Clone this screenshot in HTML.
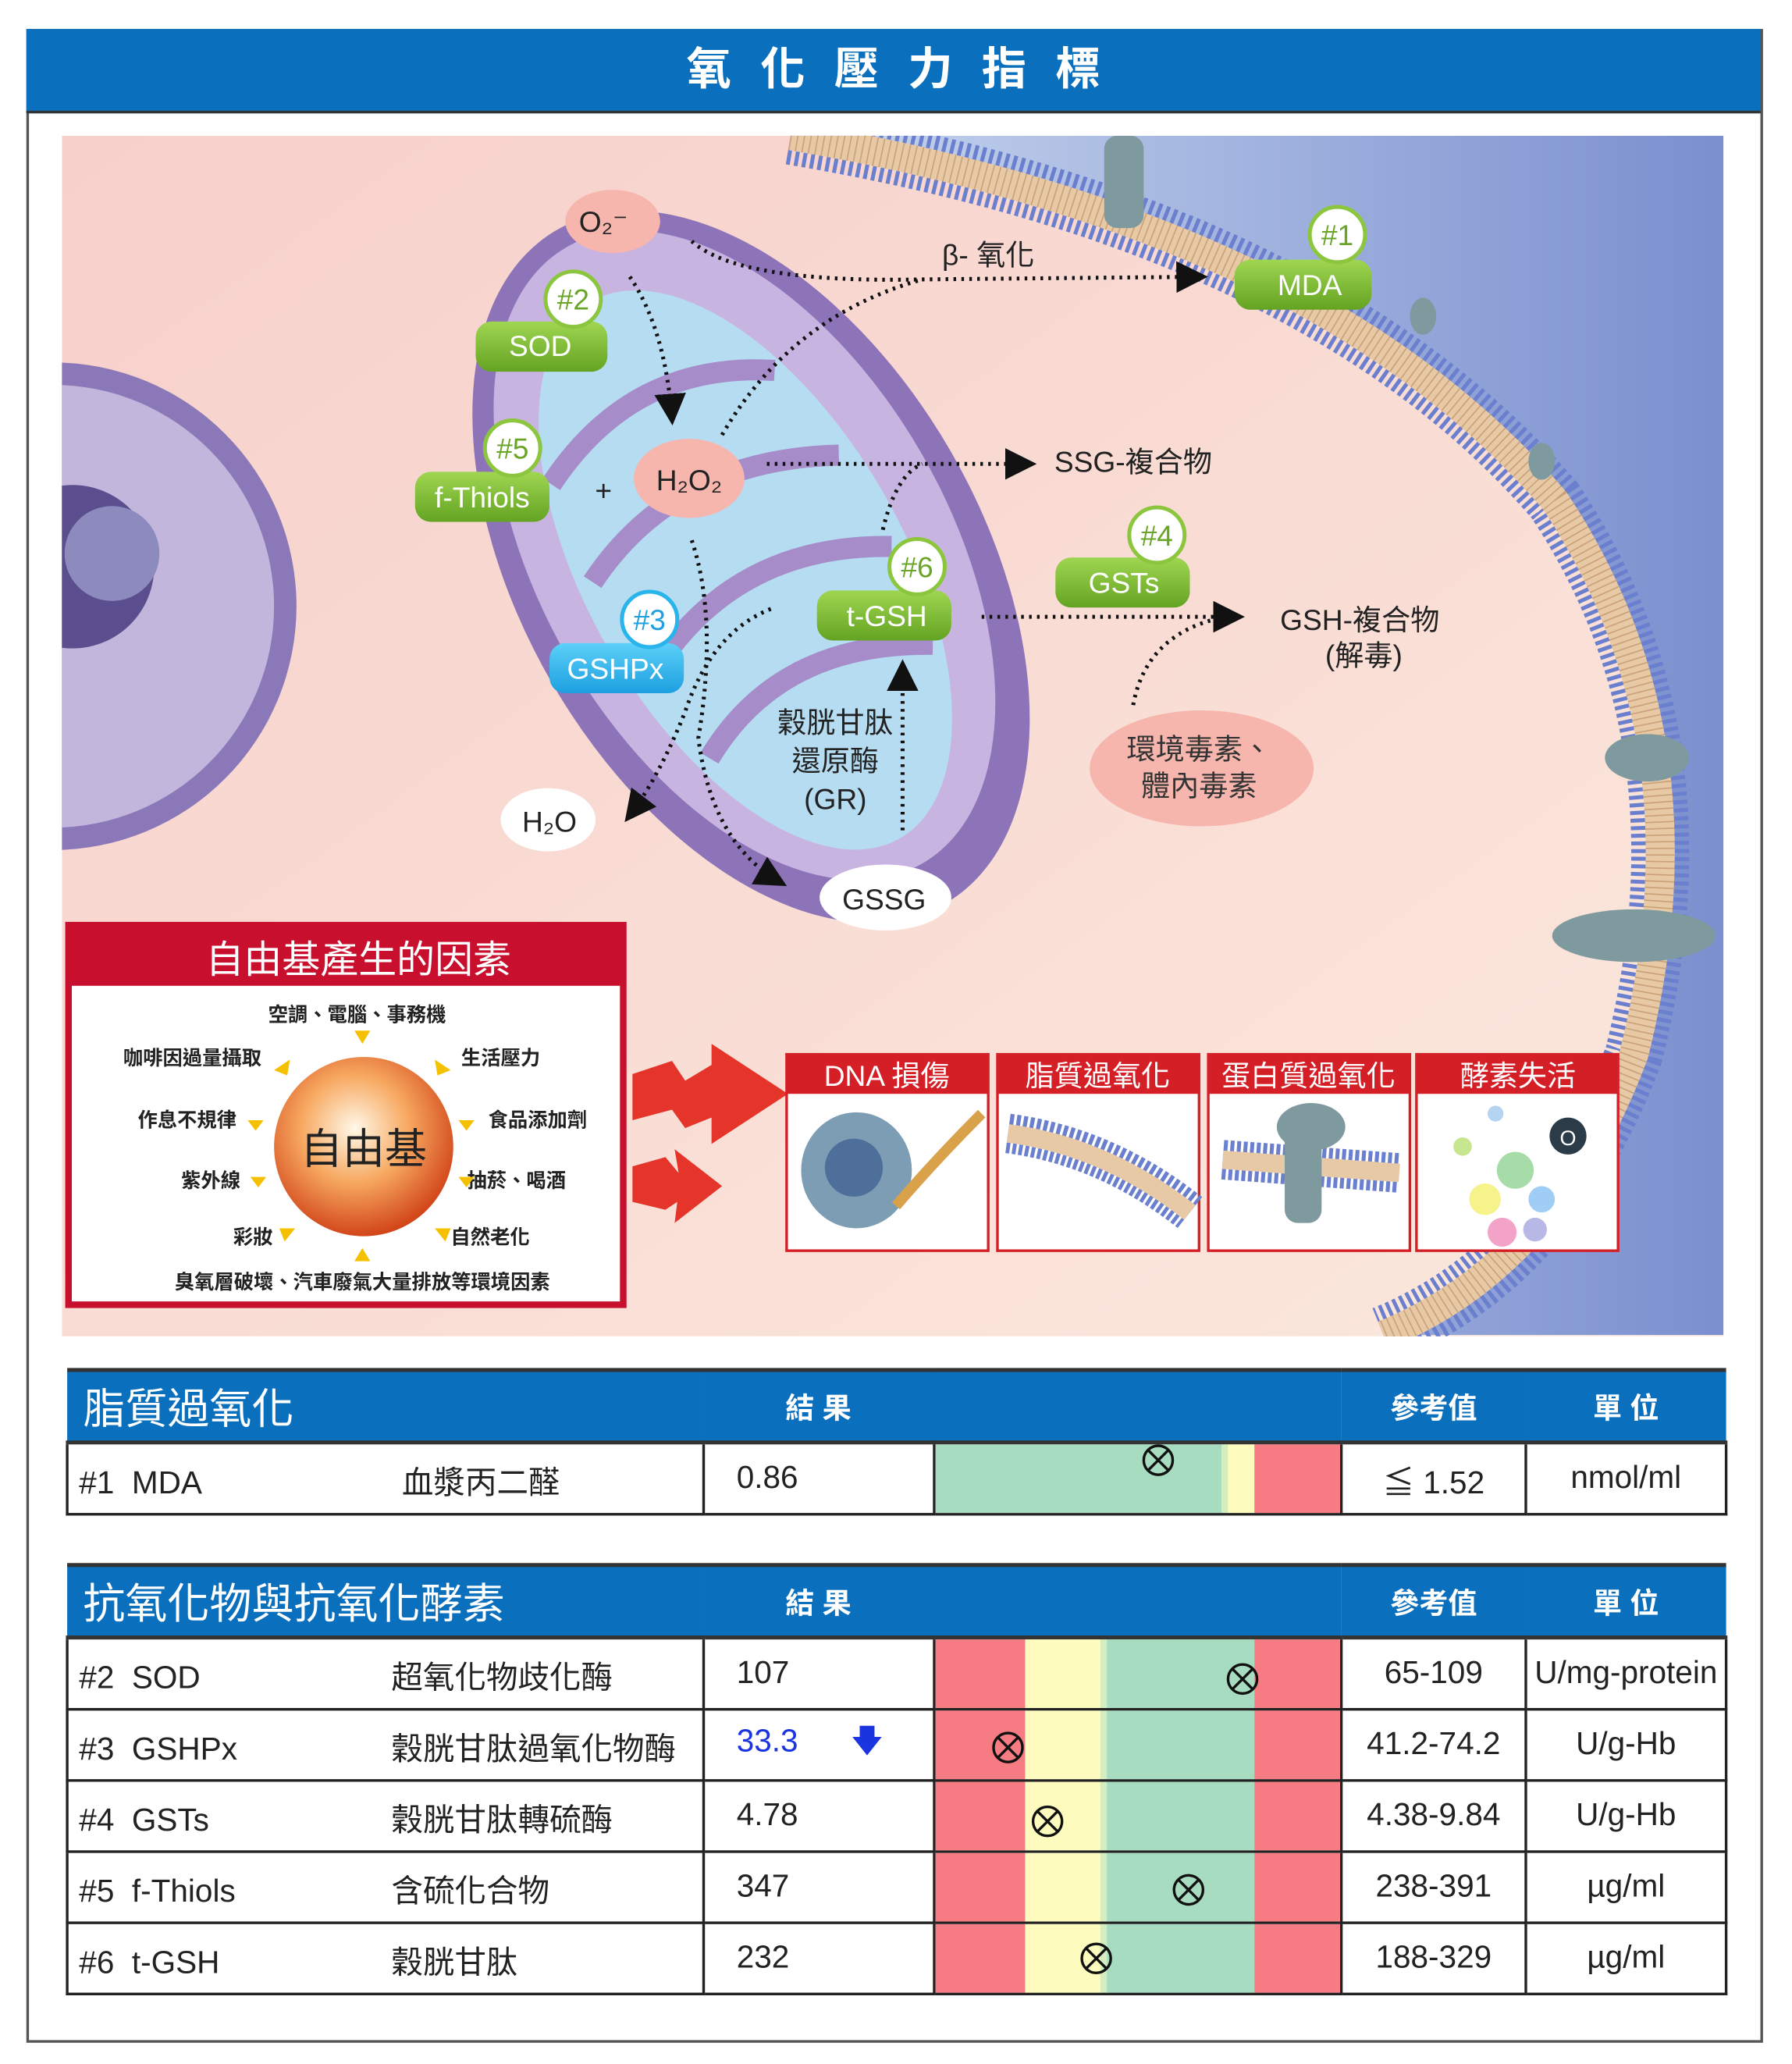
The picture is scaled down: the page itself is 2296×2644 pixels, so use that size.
<!DOCTYPE html>
<html><head><meta charset="utf-8">
<style>
html,body{margin:0;padding:0;background:#fff;}
body{width:2296px;height:2643px;overflow:hidden;position:relative;font-family:"Liberation Sans","Noto Sans CJK TC",sans-serif;}
#w{position:absolute;left:0;top:0;width:1360px;height:1566px;transform:scale(1.68824);transform-origin:0 0;}
.a{position:absolute;}
.t{position:absolute;border-collapse:collapse;left:50px;width:1259px;table-layout:fixed;}
.t td{border:2px solid #222;height:52px;font-size:24px;color:#222;padding:0;white-space:nowrap;}
.hd td{background:#0a6fbd;color:#fff;border:none;border-top:3px solid #333;border-bottom:3px solid #333;}
.bar{position:relative;padding:0!important;}
.bar div{position:absolute;top:0;bottom:0;}
.x{position:absolute;width:24px;height:24px;border:2px solid #111;border-radius:50%;box-sizing:border-box;top:13px;}
.x:before,.x:after{content:"";position:absolute;left:50%;top:-1px;width:2px;height:22px;background:#111;margin-left:-1px;transform:rotate(45deg);}
.x:after{transform:rotate(-45deg);}
</style></head><body><div id="w">
<div class="a" style="left:20px;top:22px;width:1314px;height:1524px;border:2px solid #555;"></div>
<div class="a" style="left:20px;top:22px;width:1316px;height:62px;background:#0a6fbd;border-bottom:2px solid #333;color:#fff;font-size:34px;text-align:center;line-height:62px;letter-spacing:22px;text-indent:22px;font-weight:bold;">氧化壓力指標</div>

<svg class="a" style="left:47px;top:103px" width="1261" height="911" viewBox="47 103 1261 911">
<defs>
<linearGradient id="bg" x1="0" y1="0" x2="1" y2="1"><stop offset="0" stop-color="#f7d0cb"/><stop offset="1" stop-color="#fbe8dd"/></linearGradient>
<linearGradient id="bl" x1="0" y1="0" x2="1" y2="0"><stop offset="0" stop-color="#c7d6ee"/><stop offset="1" stop-color="#7b8fcf"/></linearGradient>
<radialGradient id="org" cx=".45" cy=".4" r=".6"><stop offset="0" stop-color="#fff8e8"/><stop offset=".5" stop-color="#f7a860"/><stop offset="1" stop-color="#d2461a"/></radialGradient>
<linearGradient id="gr" x1="0" y1="0" x2="0" y2="1"><stop offset="0" stop-color="#9fd651"/><stop offset="1" stop-color="#64a322"/></linearGradient>
<linearGradient id="bu" x1="0" y1="0" x2="0" y2="1"><stop offset="0" stop-color="#5cd0f8"/><stop offset="1" stop-color="#1d9fe0"/></linearGradient>
<marker id="ar" viewBox="0 0 10 10" refX="8" refY="5" markerWidth="8" markerHeight="8" orient="auto"><path d="M0 0L10 5L0 10z" fill="#111"/></marker>
</defs>
<rect x="47" y="103" width="1261" height="911" fill="url(#bg)"/>
<path d="M600 103 Q1000 170 1180 380 Q1300 560 1240 800 Q1180 960 1050 1013 L1308 1013 L1308 103 Z" fill="url(#bl)"/>
<path d="M600 103 Q1000 170 1180 380 Q1300 560 1240 800 Q1180 960 1050 1013" fill="none" stroke="#6b7fcf" stroke-width="44" stroke-dasharray="3 3"/>
<path d="M600 103 Q1000 170 1180 380 Q1300 560 1240 800 Q1180 960 1050 1013" fill="none" stroke="#e8c9a6" stroke-width="22"/>
<path d="M600 103 Q1000 170 1180 380 Q1300 560 1240 800 Q1180 960 1050 1013" fill="none" stroke="#c9a27a" stroke-width="22" stroke-dasharray="1 4"/>
<g fill="#7f9a9e"><rect x="838" y="103" width="30" height="70" rx="10"/><ellipse cx="1250" cy="575" rx="32" ry="18"/><ellipse cx="1240" cy="710" rx="62" ry="20"/><ellipse cx="1080" cy="240" rx="10" ry="14"/><ellipse cx="1170" cy="350" rx="10" ry="14"/></g>
<circle cx="40" cy="460" r="185" fill="#8b78b8"/>
<circle cx="40" cy="460" r="168" fill="#c2b6dc"/>
<ellipse cx="55" cy="430" rx="62" ry="62" fill="#5a4e8e"/>
<ellipse cx="85" cy="420" rx="36" ry="36" fill="#8d8abe"/>
<g transform="rotate(-30 570 430)">
<ellipse cx="570" cy="430" rx="175" ry="295" fill="#8d74b8"/>
<ellipse cx="570" cy="420" rx="155" ry="270" fill="#c8b4e0"/>
<ellipse cx="565" cy="430" rx="120" ry="235" fill="#b6dcf2"/>
<g fill="none" stroke="#a68cc8" stroke-width="16"><path d="M470 300 Q570 250 660 310"/><path d="M460 380 Q560 330 670 390"/><path d="M470 460 Q570 410 670 470"/><path d="M470 540 Q560 490 660 550"/></g>
</g>
<g fill="none" stroke="#111" stroke-width="3" stroke-dasharray="2 4">
<path d="M525 183 Q560 215 700 212 L912 210" marker-end="url(#ar)"/>
<path d="M548 330 Q600 240 700 212"/>
<path d="M478 210 Q505 250 510 318" marker-end="url(#ar)"/>
<path d="M582 352 L782 352" marker-end="url(#ar)"/>
<path d="M670 402 Q680 360 700 352"/>
<path d="M745 468 L940 468" marker-end="url(#ar)"/>
<path d="M860 535 Q870 480 930 468"/>
<path d="M525 410 Q545 470 530 560 Q540 640 593 670" marker-end="url(#ar)"/>
<path d="M585 462 Q540 480 520 540 Q500 590 477 620" marker-end="url(#ar)"/>
<path d="M685 630 L685 505" marker-end="url(#ar)"/>
</g>
<g font-family="Liberation Sans,Noto Sans CJK TC,sans-serif" font-size="22" text-anchor="middle">
<ellipse cx="465" cy="168" rx="36" ry="24" fill="#f6b6ae"/><text x="458" y="176" fill="#222">O₂⁻</text>
<ellipse cx="523" cy="363" rx="42" ry="30" fill="#f6b6ae"/><text x="523" y="372" fill="#222">H₂O₂</text>
<ellipse cx="416" cy="622" rx="36" ry="24" fill="#fff"/><text x="417" y="631" fill="#222">H₂O</text>
<ellipse cx="672" cy="681" rx="50" ry="25" fill="#fff"/><text x="671" y="690" fill="#222">GSSG</text>
<ellipse cx="912" cy="583" rx="85" ry="44" fill="#f6b6ae"/><text x="910" y="576" fill="#333">環境毒素、</text><text x="910" y="604" fill="#333">體內毒素</text>
<text x="458" y="380" fill="#222">+</text>
<text x="750" y="201" fill="#222">β- 氧化</text>
<text x="860" y="358" fill="#222">SSG-複合物</text>
<text x="1032" y="478" fill="#222">GSH-複合物</text><text x="1035" y="505" fill="#222">(解毒)</text>
<text x="634" y="556" fill="#222">穀胱甘肽</text><text x="634" y="585" fill="#222">還原酶</text><text x="634" y="614" fill="#222">(GR)</text>
<g fill="#fff">
<rect x="361" y="244" width="100" height="38" rx="12" fill="url(#gr)"/><text x="410" y="270">SOD</text>
<rect x="315" y="358" width="102" height="38" rx="12" fill="url(#gr)"/><text x="366" y="385">f-Thiols</text>
<rect x="620" y="448" width="102" height="38" rx="12" fill="url(#gr)"/><text x="673" y="475">t-GSH</text>
<rect x="801" y="423" width="102" height="38" rx="12" fill="url(#gr)"/><text x="853" y="450">GSTs</text>
<rect x="937" y="197" width="104" height="38" rx="12" fill="url(#gr)"/><text x="994" y="224">MDA</text>
<rect x="417" y="488" width="102" height="38" rx="12" fill="url(#bu)"/><text x="467" y="515">GSHPx</text>
</g>
<g stroke-width="3" fill="#fff">
<circle cx="435" cy="227" r="21" stroke="#8cc63f"/><circle cx="389" cy="340" r="21" stroke="#8cc63f"/><circle cx="696" cy="430" r="21" stroke="#8cc63f"/><circle cx="878" cy="406" r="21" stroke="#8cc63f"/><circle cx="1015" cy="178" r="21" stroke="#8cc63f"/><circle cx="493" cy="470" r="21" stroke="#29b5ec"/>
</g>
<g fill="#6aa528"><text x="435" y="235">#2</text><text x="389" y="348">#5</text><text x="696" y="438">#6</text><text x="878" y="414">#4</text><text x="1015" y="186">#1</text></g>
<text x="493" y="478" fill="#1d9fe0">#3</text>
</g>
<g fill="#e5352b"><path d="M480 815 L510 805 L520 820 L540 808 L540 792 L598 830 L540 868 L540 848 L520 856 L510 842 L480 850 Z"/><path d="M480 885 L505 878 L515 890 L512 872 L548 900 L512 928 L514 912 L505 918 L480 912 Z"/></g>
<rect x="52" y="702" width="421" height="288" fill="#fff" stroke="#c8102e" stroke-width="5"/>
<rect x="52" y="702" width="421" height="46" fill="#c8102e"/>
<text x="272" y="738" font-size="29" fill="#fff" text-anchor="middle" font-family="Liberation Sans,Noto Sans CJK TC,sans-serif">自由基產生的因素</text>
<circle cx="276" cy="870" r="68" fill="url(#org)"/>
<g font-family="Liberation Sans,Noto Sans CJK TC,sans-serif" font-size="15" font-weight="bold" fill="#222" text-anchor="middle">
<text x="276" y="883" font-size="32" font-weight="normal">自由基</text>
<text x="271" y="775">空調、電腦、事務機</text><text x="146" y="808">咖啡因過量攝取</text><text x="380" y="808">生活壓力</text>
<text x="142" y="855">作息不規律</text><text x="408" y="855">食品添加劑</text><text x="160" y="901">紫外線</text><text x="392" y="901">抽菸、喝酒</text>
<text x="192" y="944">彩妝</text><text x="372" y="944">自然老化</text><text x="275" y="978">臭氧層破壞、汽車廢氣大量排放等環境因素</text>
</g>
<g fill="#f5c000"><path d="M269 782h12l-6 10z"/><path d="M269 957h12l-6-10z"/><path d="M208 812l12 -8l-2 12z"/><path d="M342 812l-12-8l2 12z"/><path d="M188 850l12 0l-6 8z"/><path d="M360 850l-12 0l6 8z"/><path d="M190 893l12 0l-6 8z"/><path d="M360 893l-12 0l6 8z"/><path d="M212 932l12 0l-8 10z"/><path d="M330 932l12 0l-4 10z"/></g>
<g font-family="Liberation Sans,Noto Sans CJK TC,sans-serif" font-size="22" fill="#fff" text-anchor="middle">
<rect x="597" y="800" width="153" height="149" fill="#fff" stroke="#d51f26" stroke-width="2"/><rect x="597" y="800" width="153" height="30" fill="#d51f26"/><text x="673" y="824">DNA 損傷</text>
<rect x="757" y="800" width="153" height="149" fill="#fff" stroke="#d51f26" stroke-width="2"/><rect x="757" y="800" width="153" height="30" fill="#d51f26"/><text x="833" y="824">脂質過氧化</text>
<rect x="917" y="800" width="153" height="149" fill="#fff" stroke="#d51f26" stroke-width="2"/><rect x="917" y="800" width="153" height="30" fill="#d51f26"/><text x="993" y="824">蛋白質過氧化</text>
<rect x="1075" y="800" width="153" height="149" fill="#fff" stroke="#d51f26" stroke-width="2"/><rect x="1075" y="800" width="153" height="30" fill="#d51f26"/><text x="1152" y="824">酵素失活</text>
</g>
<ellipse cx="650" cy="888" rx="42" ry="44" fill="#7d9db5"/><ellipse cx="648" cy="886" rx="22" ry="22" fill="#4e6f99"/>
<path d="M680 915 Q710 880 745 845" stroke="#d9a24a" stroke-width="8" fill="none"/>
<path d="M765 860 Q840 870 903 920" stroke="#6b7fcf" stroke-width="30" stroke-dasharray="3 2" fill="none"/><path d="M765 860 Q840 870 903 920" stroke="#e8c9a6" stroke-width="14" fill="none"/>
<path d="M928 880 L1062 890" stroke="#6b7fcf" stroke-width="30" stroke-dasharray="3 2" fill="none"/><path d="M928 880 L1062 890" stroke="#e8c9a6" stroke-width="14" fill="none"/>
<rect x="975" y="840" width="28" height="88" rx="10" fill="#7f9a9e"/><ellipse cx="995" cy="855" rx="26" ry="18" fill="#7f9a9e"/>
<g><circle cx="1150" cy="888" r="14" fill="#a6dca8"/><circle cx="1127" cy="910" r="12" fill="#f6f38a"/><circle cx="1170" cy="910" r="10" fill="#9fcdf5"/><circle cx="1140" cy="935" r="11" fill="#f3a2c8"/><circle cx="1165" cy="933" r="9" fill="#b8b8e6"/><circle cx="1110" cy="870" r="7" fill="#c6e690"/><circle cx="1135" cy="845" r="6" fill="#b5d4f2"/><circle cx="1190" cy="862" r="14" fill="#2b3b48"/><text x="1190" y="869" font-size="16" fill="#fff" text-anchor="middle">O</text></g>
</svg>

<table class="t" style="top:1038px">
<colgroup><col style="width:483px"><col style="width:175px"><col style="width:309px"><col style="width:140px"><col style="width:152px"></colgroup>
<tr class="hd"><td style="height:52px;font-size:32px;padding-left:12px;">脂質過氧化</td><td colspan="2" style="font-size:22px;padding-left:62px;font-weight:bold;">結 果</td><td style="font-size:22px;text-align:center;font-weight:bold;">參考值</td><td style="font-size:22px;text-align:center;font-weight:bold;">單 位</td></tr>
<tr><td style="padding-left:8px"><span style="display:inline-block;width:245px">#1&nbsp; MDA</span>血漿丙二醛</td><td style="padding-left:24px">0.86</td>
<td class="bar"><div style="left:0;width:217px;background:#a8dcc0"></div><div style="left:217px;width:5px;background:#d6eebf"></div><div style="left:222px;width:20px;background:#fdfcbe"></div><div style="left:242px;right:0;background:#f77b83"></div><div class="x" style="left:157px"></div></td>
<td style="text-align:center">≦ 1.52</td><td style="text-align:center">nmol/ml</td></tr>
</table>

<table class="t" style="top:1186px">
<colgroup><col style="width:483px"><col style="width:175px"><col style="width:309px"><col style="width:140px"><col style="width:152px"></colgroup>
<tr class="hd"><td style="height:52px;font-size:32px;padding-left:12px;">抗氧化物與抗氧化酵素</td><td colspan="2" style="font-size:22px;padding-left:62px;font-weight:bold;">結 果</td><td style="font-size:22px;text-align:center;font-weight:bold;">參考值</td><td style="font-size:22px;text-align:center;font-weight:bold;">單 位</td></tr>
<tr><td style="padding-left:8px"><span style="display:inline-block;width:237px">#2&nbsp; SOD</span>超氧化物歧化酶</td><td style="padding-left:24px">107</td>
<td class="bar"><div style="left:0;width:68px;background:#f77b83"></div><div style="left:68px;width:57px;background:#fdfcbe"></div><div style="left:125px;width:5px;background:#d6eebf"></div><div style="left:130px;width:112px;background:#a8dcc0"></div><div style="left:242px;right:0;background:#f77b83"></div><div class="x" style="left:221px;top:18px"></div></td>
<td style="text-align:center">65-109</td><td style="text-align:center">U/mg-protein</td></tr>
<tr><td style="padding-left:8px"><span style="display:inline-block;width:237px">#3&nbsp; GSHPx</span>穀胱甘肽過氧化物酶</td><td style="padding-left:24px;color:#1a35e0">33.3<span style="margin-left:40px">🡇</span></td>
<td class="bar"><div style="left:0;width:68px;background:#f77b83"></div><div style="left:68px;width:57px;background:#fdfcbe"></div><div style="left:125px;width:5px;background:#d6eebf"></div><div style="left:130px;width:112px;background:#a8dcc0"></div><div style="left:242px;right:0;background:#f77b83"></div><div class="x" style="left:43px;top:16px"></div></td>
<td style="text-align:center">41.2-74.2</td><td style="text-align:center">U/g-Hb</td></tr>
<tr><td style="padding-left:8px"><span style="display:inline-block;width:237px">#4&nbsp; GSTs</span>穀胱甘肽轉硫酶</td><td style="padding-left:24px">4.78</td>
<td class="bar"><div style="left:0;width:68px;background:#f77b83"></div><div style="left:68px;width:57px;background:#fdfcbe"></div><div style="left:125px;width:5px;background:#d6eebf"></div><div style="left:130px;width:112px;background:#a8dcc0"></div><div style="left:242px;right:0;background:#f77b83"></div><div class="x" style="left:73px;top:18px"></div></td>
<td style="text-align:center">4.38-9.84</td><td style="text-align:center">U/g-Hb</td></tr>
<tr><td style="padding-left:8px"><span style="display:inline-block;width:237px">#5&nbsp; f-Thiols</span>含硫化合物</td><td style="padding-left:24px">347</td>
<td class="bar"><div style="left:0;width:68px;background:#f77b83"></div><div style="left:68px;width:57px;background:#fdfcbe"></div><div style="left:125px;width:5px;background:#d6eebf"></div><div style="left:130px;width:112px;background:#a8dcc0"></div><div style="left:242px;right:0;background:#f77b83"></div><div class="x" style="left:180px;top:16px"></div></td>
<td style="text-align:center">238-391</td><td style="text-align:center">µg/ml</td></tr>
<tr><td style="padding-left:8px"><span style="display:inline-block;width:237px">#6&nbsp; t-GSH</span>穀胱甘肽</td><td style="padding-left:24px">232</td>
<td class="bar"><div style="left:0;width:68px;background:#f77b83"></div><div style="left:68px;width:57px;background:#fdfcbe"></div><div style="left:125px;width:5px;background:#d6eebf"></div><div style="left:130px;width:112px;background:#a8dcc0"></div><div style="left:242px;right:0;background:#f77b83"></div><div class="x" style="left:110px;top:14px"></div></td>
<td style="text-align:center">188-329</td><td style="text-align:center">µg/ml</td></tr>
</table>
</div></body></html>
